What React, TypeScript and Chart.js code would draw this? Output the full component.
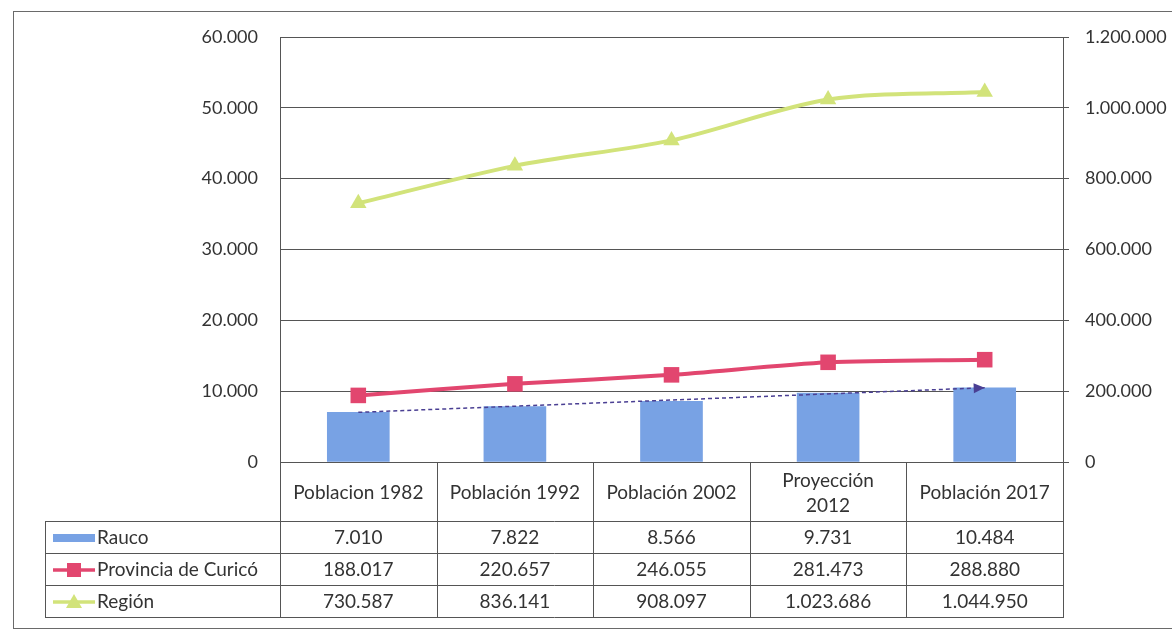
import React, { useEffect, useRef } from 'react';
import { Chart, registerables } from 'chart.js';

Chart.register(...registerables);

const categories: (string | string[])[] = ['Poblacion 1982', 'Población 1992', 'Población 2002', ['Proyección', '2012'], 'Población 2017'];
const seriesNames = ['Rauco', 'Provincia de Curicó', 'Región'];
const raucoValues = [7010, 7822, 8566, 9731, 10484];
const curicoValues = [188017, 220657, 246055, 281473, 288880];
const regionValues = [730587, 836141, 908097, 1023686, 1044950];
const trendValues: (number | null)[] = [7010, null, null, null, 10484];
const leftAxis = { min: 0, max: 60000, step: 10000 };
const rightAxis = { min: 0, max: 1200000, step: 200000 };

const BAR_COLOR = '#78a2e4';
const CURICO_COLOR = '#e2466f';
const REGION_COLOR = '#d2e37a';
const TREND_COLOR = '#4a3f93';
const LINE_COLOR = '#555555';
const TEXT_COLOR = '#333333';
const FONT = 'Lato, "Open Sans", sans-serif';

const fmt = (v: number) => String(Math.round(v)).replace(/\B(?=(\d{3})+(?!\d))/g, '.');

const bgPlugin = {
  id: 'bg',
  beforeDraw(chart: any) {
    const ctx = chart.ctx;
    ctx.save();
    ctx.fillStyle = '#ffffff';
    ctx.fillRect(0, 0, chart.width, chart.height);
    ctx.strokeStyle = '#6a6a6a';
    ctx.lineWidth = 1;
    ctx.strokeRect(13.5, 11.5, chart.width + 10, 617);
    ctx.restore();
  },
};

const arrowPlugin = {
  id: 'trendArrow',
  afterDatasetsDraw(chart: any) {
    const meta = chart.getDatasetMeta(1);
    if (!meta || !meta.data) return;
    const pts = meta.data.filter((p: any, i: number) => trendValues[i] !== null);
    if (pts.length < 2) return;
    const a = pts[pts.length - 2];
    const b = pts[pts.length - 1];
    const ang = Math.atan2(b.y - a.y, b.x - a.x);
    const ctx = chart.ctx;
    const len = 11;
    const w = 5;
    ctx.save();
    ctx.fillStyle = TREND_COLOR;
    ctx.beginPath();
    ctx.moveTo(b.x, b.y);
    ctx.lineTo(b.x - len * Math.cos(ang) + w * Math.sin(ang), b.y - len * Math.sin(ang) - w * Math.cos(ang));
    ctx.lineTo(b.x - len * Math.cos(ang) - w * Math.sin(ang), b.y - len * Math.sin(ang) + w * Math.cos(ang));
    ctx.closePath();
    ctx.fill();
    ctx.restore();
  },
};

const tablePlugin = {
  id: 'dataTable',
  afterDraw(chart: any) {
    const ctx = chart.ctx;
    const ca = chart.chartArea;
    const xs = chart.scales.x;
    const n = categories.length;
    const cw = (ca.right - ca.left) / n;
    const top = Math.round(ca.bottom);
    const headerBottom = top + 59;
    const rowH = 32;
    const rows = [raucoValues, curicoValues, regionValues];
    const tableBottom = headerBottom + rowH * rows.length;
    const tableLeft = 45;
    const R = Math.round(ca.right);

    ctx.save();
    ctx.strokeStyle = LINE_COLOR;
    ctx.lineWidth = 1;
    ctx.beginPath();
    for (let i = 0; i <= n; i++) {
      const x = Math.round(ca.left + i * cw) + 0.5;
      ctx.moveTo(x, top);
      ctx.lineTo(x, tableBottom);
    }
    ctx.moveTo(tableLeft + 0.5, headerBottom);
    ctx.lineTo(tableLeft + 0.5, tableBottom);
    for (let r = 0; r <= rows.length; r++) {
      const y = headerBottom + r * rowH + 0.5;
      ctx.moveTo(tableLeft, y);
      ctx.lineTo(R + 1, y);
    }
    ctx.stroke();

    ctx.fillStyle = TEXT_COLOR;
    ctx.font = `19px ${FONT}`;
    ctx.textAlign = 'center';
    ctx.textBaseline = 'middle';
    for (let i = 0; i < n; i++) {
      const cx = xs.getPixelForValue(i);
      const lab = categories[i];
      const midY = (top + headerBottom) / 2 + 1;
      if (Array.isArray(lab)) {
        ctx.fillText(lab[0], cx, midY - 12);
        ctx.fillText(lab[1], cx, midY + 13);
      } else {
        ctx.fillText(lab, cx, midY);
      }
    }
    rows.forEach((vals, r) => {
      const cy = headerBottom + r * rowH + rowH / 2 + 1;
      vals.forEach((v, i) => {
        ctx.fillText(fmt(v), xs.getPixelForValue(i), cy);
      });
    });
    ctx.textAlign = 'left';
    const symL = 53;
    const symR = 95;
    rows.forEach((_, r) => {
      const cy = headerBottom + r * rowH + rowH / 2 + 1;
      ctx.fillStyle = TEXT_COLOR;
      ctx.fillText(seriesNames[r], 97, cy);
      if (r === 0) {
        ctx.fillStyle = BAR_COLOR;
        ctx.fillRect(symL, cy - 4, symR - symL, 8);
      } else {
        const col = r === 1 ? CURICO_COLOR : REGION_COLOR;
        ctx.strokeStyle = col;
        ctx.lineWidth = 3.5;
        ctx.beginPath();
        ctx.moveTo(symL, cy);
        ctx.lineTo(symR, cy);
        ctx.stroke();
        ctx.fillStyle = col;
        const mx = (symL + symR) / 2;
        if (r === 1) {
          ctx.fillRect(mx - 7, cy - 7, 14, 14);
        } else {
          ctx.beginPath();
          ctx.moveTo(mx, cy - 8);
          ctx.lineTo(mx + 8, cy + 6);
          ctx.lineTo(mx - 8, cy + 6);
          ctx.closePath();
          ctx.fill();
        }
      }
    });
    ctx.restore();
  },
};

export default function App() {
  const ref = useRef<HTMLCanvasElement | null>(null);

  useEffect(() => {
    if (!ref.current) return;
    const chart = new Chart(ref.current, {
      type: 'bar',
      data: {
        labels: categories as any,
        datasets: [
          {
            type: 'bar',
            label: seriesNames[0],
            data: raucoValues,
            backgroundColor: BAR_COLOR,
            barThickness: 62,
            yAxisID: 'y',
            order: 4,
          },
          {
            type: 'line',
            label: 'Tendencia',
            data: trendValues as any,
            borderColor: TREND_COLOR,
            borderWidth: 1.5,
            borderDash: [4, 3],
            pointRadius: 0,
            spanGaps: true,
            yAxisID: 'y',
            order: 3,
          },
          {
            type: 'line',
            label: seriesNames[1],
            data: curicoValues,
            borderColor: CURICO_COLOR,
            backgroundColor: CURICO_COLOR,
            borderWidth: 4,
            pointStyle: 'rect',
            pointRadius: 11,
            pointBorderWidth: 0,
            tension: 0.25,
            yAxisID: 'y1',
            order: 2,
          },
          {
            type: 'line',
            label: seriesNames[2],
            data: regionValues,
            borderColor: REGION_COLOR,
            backgroundColor: REGION_COLOR,
            borderWidth: 4,
            pointStyle: 'triangle',
            pointRadius: 9.5,
            pointBorderWidth: 0,
            tension: 0.3,
            yAxisID: 'y1',
            order: 1,
          },
        ],
      },
      options: {
        animation: false,
        responsive: true,
        maintainAspectRatio: false,
        devicePixelRatio: 1,
        layout: { padding: { left: 12, right: 0, top: 37, bottom: 171 } },
        plugins: { legend: { display: false }, tooltip: { enabled: false } },
        scales: {
          x: { display: false, offset: true },
          y: {
            position: 'left',
            min: leftAxis.min,
            max: leftAxis.max,
            afterFit: (s: any) => { s.width = 268; },
            ticks: {
              stepSize: leftAxis.step,
              padding: 22,
              color: TEXT_COLOR,
              font: { family: FONT, size: 18 },
              callback: (v: any) => fmt(Number(v)),
            },
            grid: { color: LINE_COLOR, lineWidth: 1, drawTicks: false },
            border: { display: true, color: LINE_COLOR, width: 1 },
          },
          y1: {
            position: 'right',
            min: rightAxis.min,
            max: rightAxis.max,
            afterFit: (s: any) => { s.width = 109; },
            ticks: {
              stepSize: rightAxis.step,
              padding: 16,
              color: TEXT_COLOR,
              font: { family: FONT, size: 18 },
              callback: (v: any) => fmt(Number(v)),
            },
            grid: { drawOnChartArea: false, drawTicks: true, tickLength: 6, color: LINE_COLOR },
            border: { display: true, color: LINE_COLOR, width: 1 },
          },
        },
      },
      plugins: [bgPlugin, arrowPlugin, tablePlugin],
    } as any);
    return () => chart.destroy();
  }, []);

  return (
    <div style={{ position: 'fixed', left: 0, top: 0, width: 1172, height: 633, background: '#fff' }}>
      <canvas ref={ref} />
    </div>
  );
}
